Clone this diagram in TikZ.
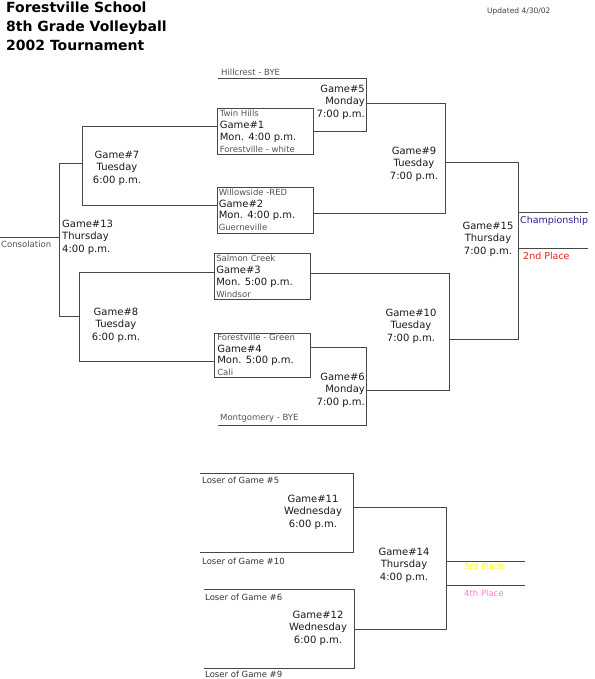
\documentclass[tikz,border=0pt]{standalone}
\usepackage{fontspec}
\setmainfont{DejaVu Sans}
\usepackage{tikz}
\usetikzlibrary{positioning}

\definecolor{champ}{HTML}{3B1E8E}
\definecolor{second}{HTML}{E8201C}
\definecolor{third}{HTML}{FFFF00}
\definecolor{fourth}{HTML}{FF80C8}

\providecommand{\bkt}[6]{\draw[#1] (#2,#3) -- (#4,#3) -- (#4,#5) -- (#6,#5);}
\newcommand{\gamefont}{\fontsize{10}{12.5}\selectfont}
\newcommand{\teamfont}{\fontsize{8.5}{11.5}\selectfont}
\newcommand{\titlefont}{\fontsize{14}{19}\selectfont\bfseries}
\newcommand{\tmname}[1]{{\teamfont\color{black!68}#1}}

\begin{document}
\begin{tikzpicture}[
  x=1pt, y=-1pt,
  ln/.style={draw=black!72, line width=.9pt},
  gbox/.style={draw=black!72, line width=.9pt, minimum width=96pt, minimum height=46pt, inner sep=0pt},
  binfo/.style={anchor=north west, align=left, inner sep=0pt, font=\fontsize{10}{11.8}\selectfont, text=black!90},
  gtxt/.style={align=center, inner sep=0pt, font=\gamefont, text=black!90},
  team/.style={anchor=west, inner sep=0pt, font=\teamfont, text=black!68},
  place/.style={anchor=west, inner sep=0pt, font=\fontsize{9.5}{11}\selectfont},
]
\useasboundingbox (0,0) rectangle (594,679);

% ---------------- title ----------------
\node[anchor=north west, align=left, inner sep=0pt, font=\titlefont] (title) at (6,2)
  {Forestville School\\8th Grade Volleyball\\2002 Tournament};
\node[anchor=west, inner sep=0pt, font=\fontsize{7.5}{8}\selectfont, text=black!75] (upd) at (487,11)
  {Updated 4/30/02};

% ---------------- first round boxes ----------------
\node[gbox] (g1) at (265,131.5) {};
\node[gbox] (g2) at (265,210) {};
\node[gbox] (g3) at (262.5,276.5) {};
\node[gbox, minimum height=44pt] (g4) at (262.5,355) {};

\node[binfo] (g1t) at ([shift={(3,2)}]g1.north west)
  {\tmname{Twin Hills}\\Game\#1\\Mon. 4:00 p.m.\\\tmname{Forestville - white}};
\node[binfo] (g2t) at ([shift={(2,2)}]g2.north west)
  {\tmname{Willowside -RED}\\Game\#2\\Mon. 4:00 p.m.\\\tmname{Guerneville}};
\node[binfo] (g3t) at ([shift={(2,2)}]g3.north west)
  {\tmname{Salmon Creek}\\Game\#3\\Mon. 5:00 p.m.\\\tmname{Windsor}};
\node[binfo] (g4t) at ([shift={(3,1)}]g4.north west)
  {\tmname{Forestville - Green}\\Game\#4\\Mon. 5:00 p.m.\\\tmname{Cali}};

% ---------------- brackets (from, corner, down, back) ----------------
\bkt{ln}{218}{78}{366}{131}{313}      % game 5 : Hillcrest vs winner 1
\bkt{ln}{311}{347}{366}{425}{218}     % game 6 : winner 4 vs Montgomery
\bkt{ln}{217}{126}{82}{205}{217}      % game 7 : loser 1 vs loser 2
\bkt{ln}{214}{272}{79}{361}{214}      % game 8 : loser 3 vs loser 4
\bkt{ln}{366}{103}{445}{213}{313}     % game 9
\bkt{ln}{311}{273}{449}{390}{366}     % game 10
\bkt{ln}{82}{163}{59}{316}{79}        % game 13
\bkt{ln}{445}{162}{518}{339}{449}     % game 15
\bkt{ln}{200}{473}{353}{552}{200}     % game 11
\bkt{ln}{204}{589}{354}{668}{204}     % game 12
\bkt{ln}{353}{507}{446}{629}{354}     % game 14

% ---------------- result lines ----------------
\draw[ln] (0,237) -- (59,237);
\draw[ln] (518,212) -- (588,212);
\draw[ln] (518,248) -- (588,248);
\draw[ln] (446,561) -- (525,561);
\draw[ln] (446,585) -- (525,585);

% ---------------- game labels ----------------
\node[gtxt, anchor=east, align=right] (t5) at (365,102) {Game\#5\\Monday\\7:00 p.m.};
\node[gtxt, anchor=east, align=right] (t6) at (365,390) {Game\#6\\Monday\\7:00 p.m.};
\node[gtxt] (t7)  at (117,168) {Game\#7\\Tuesday\\6:00 p.m.};
\node[gtxt] (t8)  at (116,325) {Game\#8\\Tuesday\\6:00 p.m.};
\node[gtxt] (t9)  at (414,164) {Game\#9\\Tuesday\\7:00 p.m.};
\node[gtxt] (t10) at (411,326) {Game\#10\\Tuesday\\7:00 p.m.};
\node[gtxt, anchor=west, align=left] (t13) at (62,237) {Game\#13\\Thursday\\4:00 p.m.};
\node[gtxt] (t15) at (488,239) {Game\#15\\Thursday\\7:00 p.m.};
\node[gtxt] (t11) at (313,512) {Game\#11\\Wednesday\\6:00 p.m.};
\node[gtxt] (t12) at (318,628) {Game\#12\\Wednesday\\6:00 p.m.};
\node[gtxt] (t14) at (404,565) {Game\#14\\Thursday\\4:00 p.m.};

% ---------------- teams, byes, places ----------------
\node[team, anchor=south west] (hill) at (221,76)  {Hillcrest - BYE};
\node[team, anchor=south west] (mont) at (220,422) {Montgomery - BYE};
\node[team] (cons) at (1,244) {Consolation};
\node[place, text=champ]  (p1) at (520,221) {Championship};
\node[place, text=second] (p2) at (523,256) {2nd Place};
\node[place, text=third,  font=\fontsize{8.5}{10}\selectfont] (p3) at (464,566) {3rd Place};
\node[place, text=fourth, font=\fontsize{8.5}{10}\selectfont] (p4) at (464,593) {4th Place};

\node[team, text=black!80] (l5)  at (202,480) {Loser of Game \#5};
\node[team, text=black!80] (l10) at (202,561) {Loser of Game \#10};
\node[team, text=black!80] (l6)  at (205,597) {Loser of Game \#6};
\node[team, text=black!80, anchor=south west] (l9) at (205,678) {Loser of Game \#9};

\end{tikzpicture}
\end{document}
